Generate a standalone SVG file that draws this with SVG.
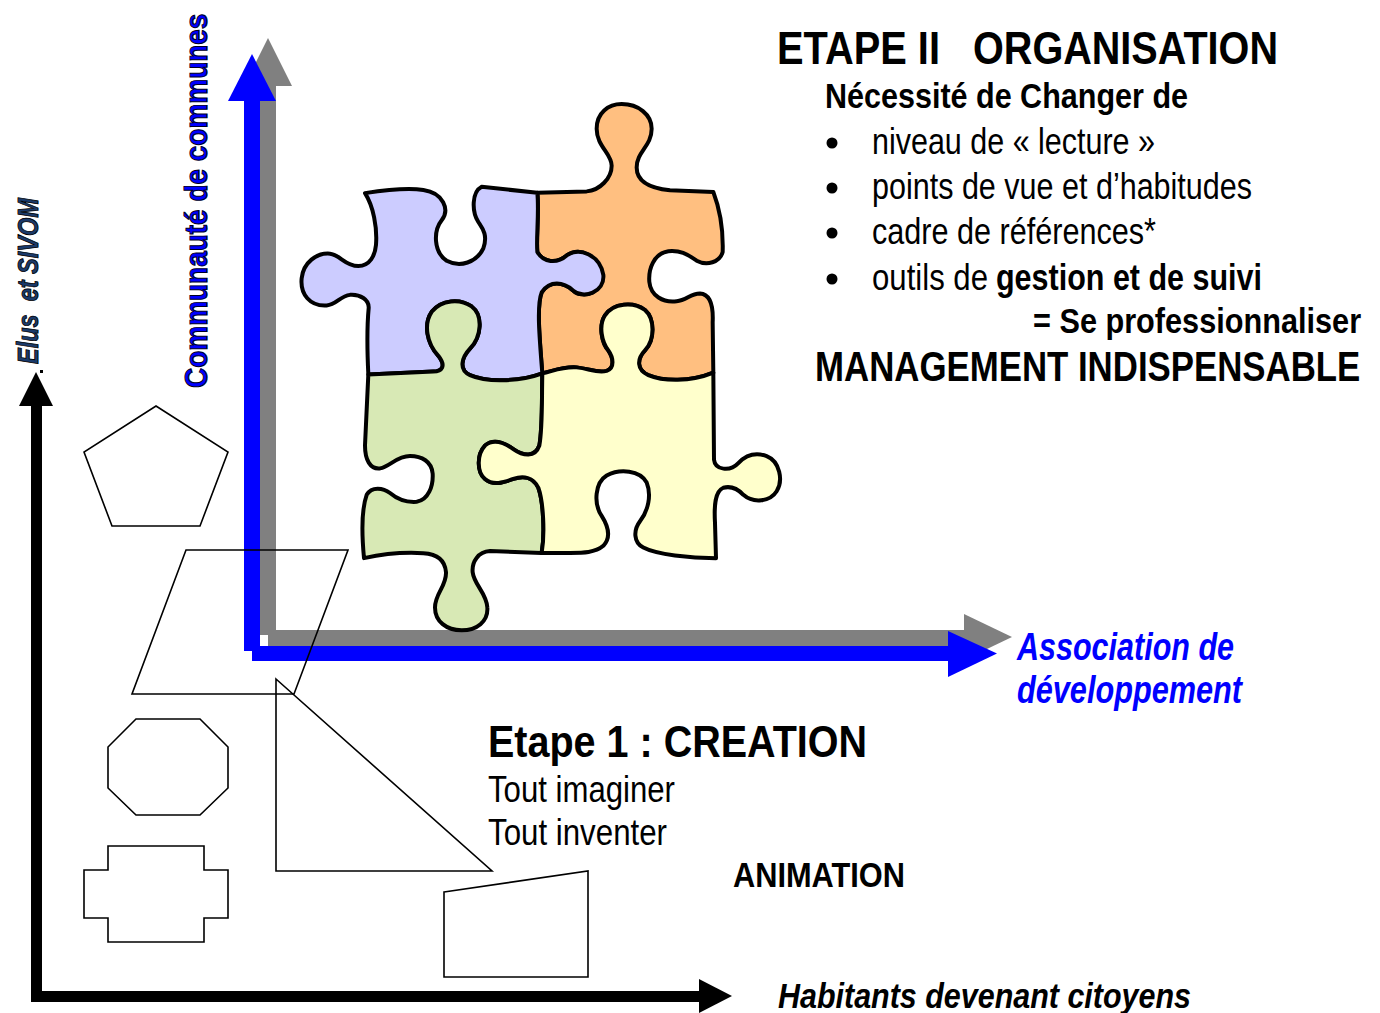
<svg xmlns="http://www.w3.org/2000/svg" width="1380" height="1013" viewBox="0 0 1380 1013">
<style>
.t{font-family:"Liberation Sans Narrow","Liberation Sans",Arial,sans-serif;fill:#000}
.b{font-weight:bold}
.i{font-style:italic}
.shape{fill:none;stroke:#000;stroke-width:1.6;stroke-linejoin:miter}
.pz{stroke:#000;stroke-width:4;vector-effect:non-scaling-stroke;stroke-linejoin:round}
</style>
<rect x="0" y="0" width="1380" height="1013" fill="#fff"/>
<g id="connectors">
  <g id="axis-black">
    <rect x="31" y="400" width="11" height="602" fill="#000"/>
    <polygon points="36,372 19,406 53,406" fill="#000"/>
    <rect x="36" y="991" width="670" height="11" fill="#000"/>
    <polygon points="732,996 699,979 699,1013" fill="#000"/>
    <rect x="40" y="370" width="3" height="3" fill="#000"/>
  </g>
  <g id="axis-gray" fill="#808080">
    <rect x="260" y="84" width="16" height="551"/>
    <polygon points="268,38 244,86 292,86"/>
    <rect x="268" y="630" width="698" height="16"/>
    <polygon points="1012,637 964,614 964,660"/>
  </g>
  <g id="axis-blue" fill="#0000ff">
    <rect x="244" y="99" width="16" height="552"/>
    <polygon points="252,54 228,101 276,101"/>
    <rect x="252" y="646" width="698" height="15"/>
    <polygon points="997,653.5 948,631 948,677"/>
  </g>
</g>
<g id="puzzle" transform="translate(290 90) scale(0.33333 0.352)">
  <path id="piece-orange" class="pz" fill="#ffbf80" d="M742,292 L890,288 C930,285 965,250 965,215 C965,180 920,160 920,110 C920,65 955,40 995,40 C1045,40 1085,70 1085,110 C1085,160 1040,175 1040,220 C1040,265 1090,280 1140,285 L1270,290 C1290,340 1300,400 1298,460 C1290,490 1250,500 1220,485 C1190,465 1170,455 1135,458 C1090,465 1075,510 1078,545 C1082,585 1120,605 1160,600 C1190,598 1200,578 1230,578 C1265,580 1270,620 1268,660 L1270,803 C1200,830 1120,828 1075,810 C1040,795 1040,765 1065,740 C1095,710 1095,650 1065,625 C1030,600 970,605 945,640 C925,670 935,720 955,740 C970,760 975,790 950,798 C920,805 900,792 860,788 C820,785 790,798 757,805 C748,700 740,610 755,575 C780,540 820,545 850,570 C880,595 940,575 935,525 C925,470 870,445 830,470 C800,495 760,490 742,460 C738,420 748,350 742,292 Z"/>
  <path id="piece-purple" class="pz" fill="#ccccff" d="M225,293 C300,282 360,278 400,284 C460,292 480,340 455,370 C430,400 430,460 470,485 C510,505 560,490 580,450 C595,410 575,390 565,375 C545,345 545,290 575,275 L742,292 C748,350 738,420 742,460 C760,490 800,495 830,470 C870,445 930,470 940,525 C945,575 880,595 850,570 C820,545 780,540 755,575 C740,610 748,700 757,805 C700,825 600,835 540,810 C505,795 515,760 540,735 C575,700 580,640 545,615 C510,592 455,595 425,630 C400,665 410,720 445,755 C470,785 455,800 430,800 L235,808 C232,750 232,660 236,620 C238,595 210,580 180,582 C150,585 140,610 110,612 C60,615 30,580 35,535 C40,490 80,462 120,465 C150,468 165,500 205,500 C240,500 255,470 258,440 C262,390 250,330 225,293 Z"/>
  <path id="piece-green" class="pz" fill="#d8e9b5" d="M235,808 L430,800 C455,800 470,785 445,755 C410,720 400,665 425,630 C455,595 510,592 545,615 C580,640 575,700 540,735 C515,760 505,795 540,810 C600,835 700,825 757,805 C755,880 758,960 748,1010 C735,1045 700,1040 670,1020 C640,1000 610,990 585,1010 C560,1035 560,1085 585,1105 C610,1125 640,1115 670,1105 C700,1095 730,1100 745,1130 C760,1170 765,1260 755,1315 L600,1310 C565,1312 545,1340 548,1370 C552,1405 590,1430 592,1470 C595,1510 560,1535 515,1535 C470,1535 435,1510 435,1470 C435,1430 470,1410 468,1370 C465,1335 440,1318 400,1316 C330,1312 270,1320 222,1330 C215,1260 215,1190 230,1150 C245,1125 280,1130 300,1145 C325,1165 350,1172 380,1170 C415,1165 430,1125 428,1090 C425,1055 395,1040 360,1040 C320,1040 300,1070 270,1075 C240,1078 225,1050 225,1010 L235,808 Z"/>
  <path id="piece-yellow" class="pz" fill="#ffffcc" d="M757,805 C790,798 820,785 860,788 C900,792 920,805 950,798 C975,790 970,760 955,740 C935,715 925,670 945,640 C970,605 1030,600 1065,625 C1095,650 1095,710 1065,740 C1040,765 1040,795 1075,810 C1120,828 1200,830 1270,803 L1272,1050 C1275,1080 1320,1085 1345,1060 C1370,1035 1400,1030 1430,1040 C1470,1055 1480,1110 1460,1140 C1440,1170 1390,1175 1360,1150 C1340,1130 1320,1125 1300,1130 C1275,1140 1272,1180 1275,1230 L1278,1330 C1200,1330 1100,1320 1060,1300 C1030,1285 1030,1250 1050,1225 C1075,1195 1085,1150 1070,1115 C1050,1080 990,1075 950,1095 C915,1115 910,1175 935,1210 C955,1240 965,1270 940,1295 C915,1315 880,1315 840,1315 L755,1315 C765,1260 760,1170 745,1130 C730,1100 700,1095 670,1105 C640,1115 610,1125 585,1105 C560,1085 560,1035 585,1010 C610,990 640,1000 670,1020 C700,1040 735,1045 748,1010 C758,960 755,880 757,805 Z"/>
</g>
<g id="shapes">
  <polygon id="pentagon" class="shape" points="156,406 228,452 200,526 112,526 84,452"/>
  <polygon id="parallelogram" class="shape" points="186,550 348,550 294,694 132,694"/>
  <polygon id="octagon" class="shape" points="136,719 200,719 228,747 228,788 200,815 136,815 108,788 108,747"/>
  <polygon id="cross" class="shape" points="108,846 204,846 204,870 228,870 228,918 204,918 204,942 108,942 108,918 84,918 84,870 108,870"/>
  <polygon id="triangle" class="shape" points="276,679 492,871 276,871"/>
  <polygon id="quad" class="shape" points="444,892 588,871 588,977 444,977"/>
</g>
<g id="labels">
  <text class="t b" transform="translate(207 388) rotate(-90) scale(0.9 1)" font-size="32" textLength="416" lengthAdjust="spacingAndGlyphs" style="fill:#0000ff;stroke:#000022;stroke-width:1.1">Communauté de communes</text>
  <text class="t b i" transform="translate(38 364) rotate(-90) scale(0.85 1)" font-size="30" textLength="195" lengthAdjust="spacingAndGlyphs" xml:space="preserve" style="fill:#1a3a6a;stroke:#000;stroke-width:0.9">Elus  et SIVOM</text>
  <text class="t b" y="64" font-size="46"><tspan x="777" textLength="163" lengthAdjust="spacingAndGlyphs">ETAPE II</tspan><tspan x="973" textLength="305" lengthAdjust="spacingAndGlyphs">ORGANISATION</tspan></text>
  <text class="t b" x="825" y="108" font-size="35" textLength="363" lengthAdjust="spacingAndGlyphs">Nécessité de Changer de</text>
  <g id="bullets" fill="#000">
    <circle cx="832" cy="143" r="5.5"/>
    <circle cx="832" cy="188" r="5.5"/>
    <circle cx="832" cy="233" r="5.5"/>
    <circle cx="832" cy="279" r="5.5"/>
  </g>
  <text class="t" x="872" y="154" font-size="36" textLength="283" lengthAdjust="spacingAndGlyphs">niveau de « lecture »</text>
  <text class="t" x="872" y="199" font-size="36" textLength="380" lengthAdjust="spacingAndGlyphs">points de vue et d’habitudes</text>
  <text class="t" x="872" y="244" font-size="36" textLength="284" lengthAdjust="spacingAndGlyphs">cadre de références*</text>
  <text class="t" y="290" font-size="36"><tspan x="872" textLength="116" lengthAdjust="spacingAndGlyphs">outils de</tspan><tspan class="b" x="996" textLength="266" lengthAdjust="spacingAndGlyphs">gestion et de suivi</tspan></text>
  <text class="t b" transform="translate(1033 333) scale(0.85 1)" font-size="36" textLength="386" lengthAdjust="spacingAndGlyphs">= Se professionnaliser</text>
  <text class="t b" transform="translate(815 381) scale(0.83 1)" font-size="42" textLength="657" lengthAdjust="spacingAndGlyphs">MANAGEMENT INDISPENSABLE</text>
  <text class="t b i" x="1017" y="660" font-size="38" textLength="217" lengthAdjust="spacingAndGlyphs" style="fill:#0000ff">Association de</text>
  <text class="t b i" x="1017" y="703" font-size="38" textLength="225" lengthAdjust="spacingAndGlyphs" style="fill:#0000ff">développement</text>
  <text class="t b" x="488" y="757" font-size="45" textLength="379" lengthAdjust="spacingAndGlyphs">Etape 1 : CREATION</text>
  <text class="t" x="488" y="802" font-size="36" textLength="187" lengthAdjust="spacingAndGlyphs">Tout imaginer</text>
  <text class="t" x="488" y="845" font-size="36" textLength="179" lengthAdjust="spacingAndGlyphs">Tout inventer</text>
  <text class="t b" x="733" y="887" font-size="35" textLength="172" lengthAdjust="spacingAndGlyphs">ANIMATION</text>
  <text class="t b i" x="778" y="1008" font-size="35" textLength="413" lengthAdjust="spacingAndGlyphs">Habitants devenant citoyens</text>
</g>
</svg>
